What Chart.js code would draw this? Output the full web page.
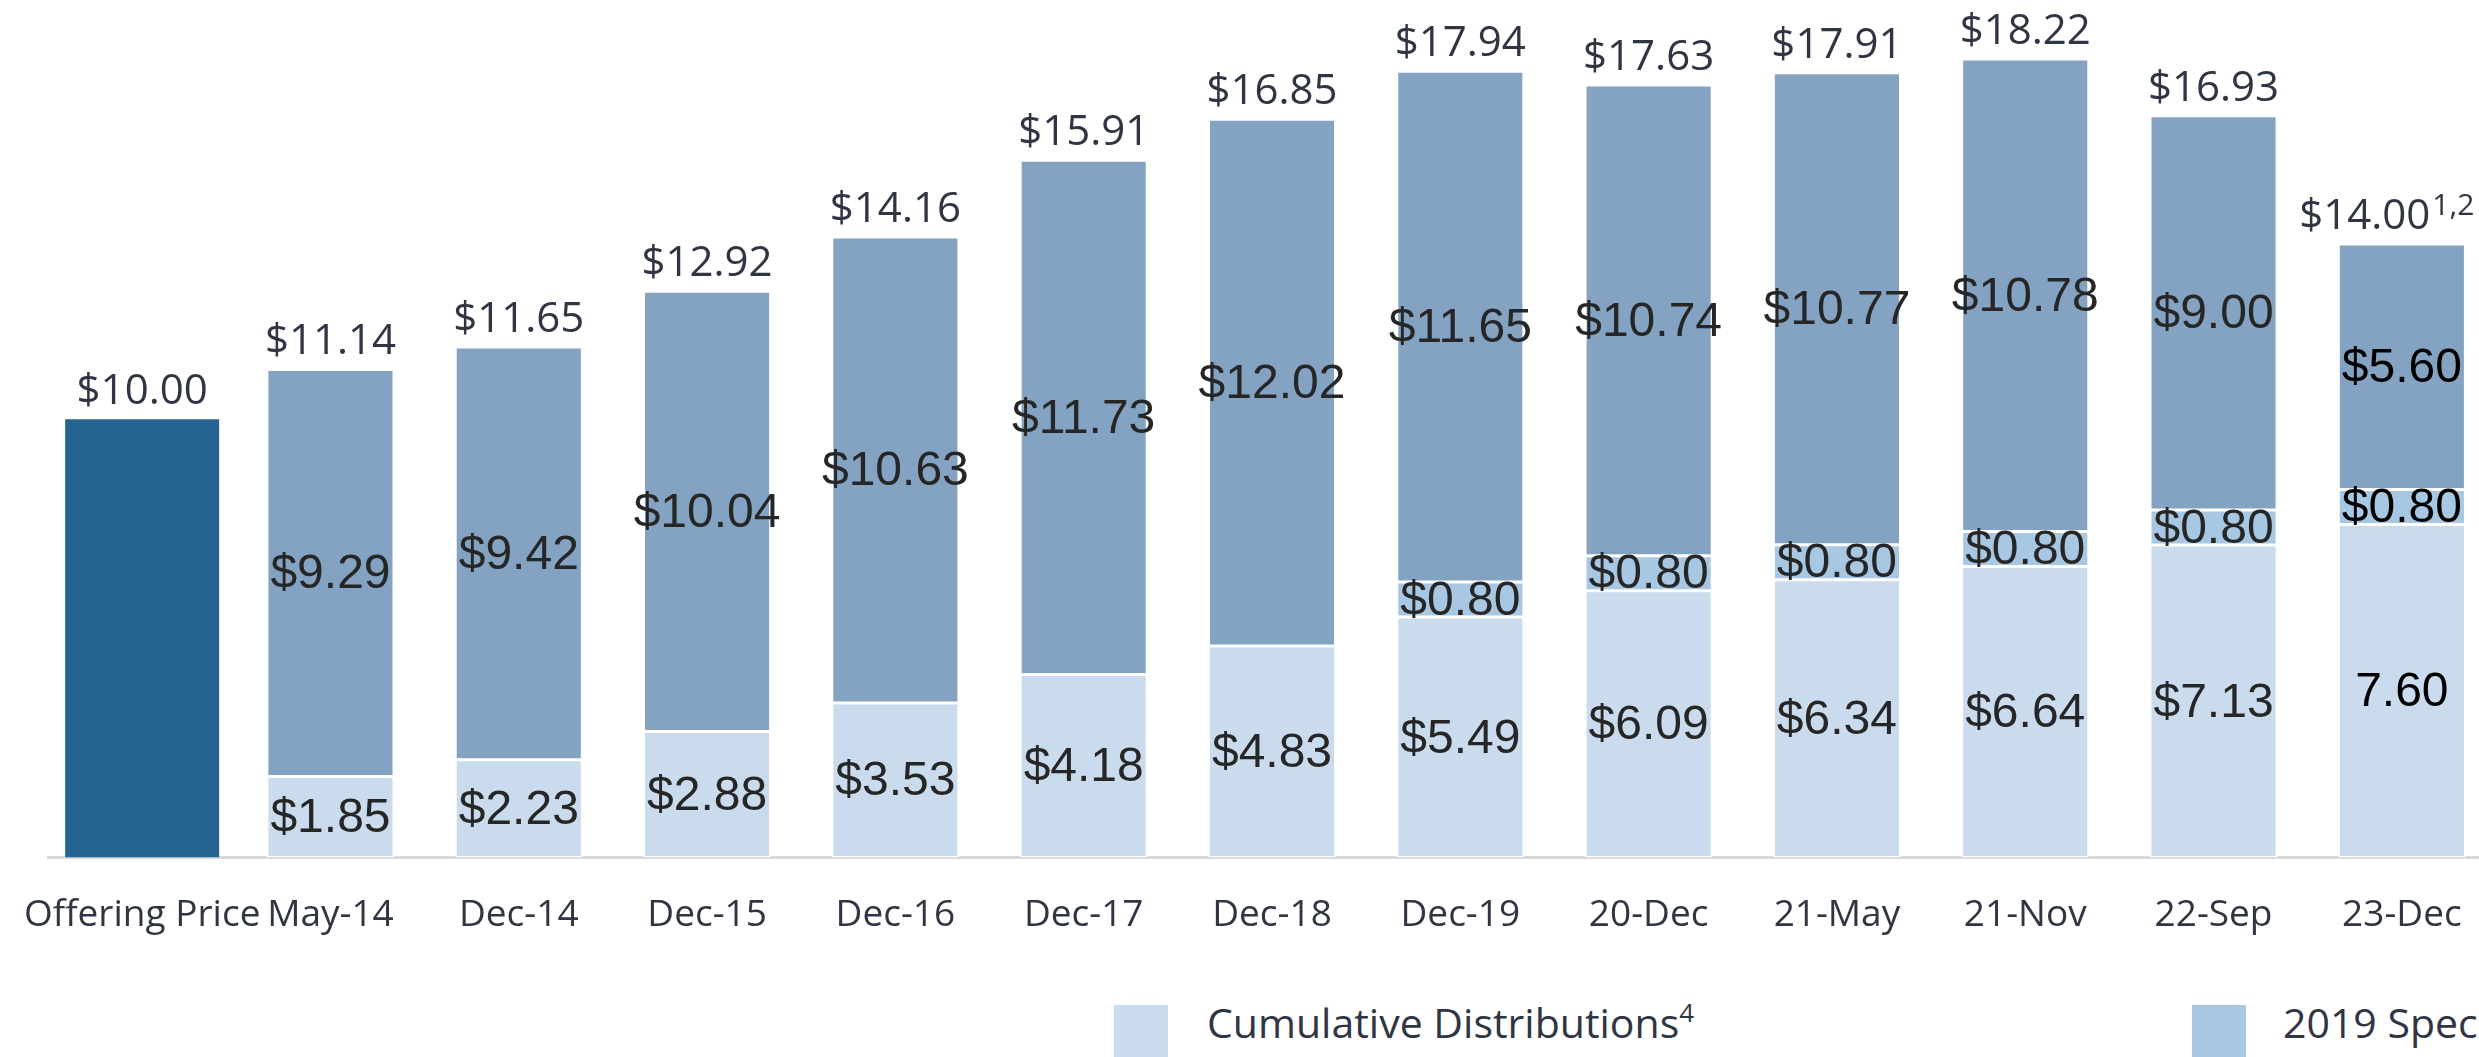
<!DOCTYPE html>
<html>
<head>
<meta charset="utf-8">
<script src="https://cdn.jsdelivr.net/npm/chart.js@4/dist/chart.umd.min.js"></script>
<style>
  html, body { margin: 0; padding: 0; background: #fff; overflow: hidden; }
  #wrap { position: relative; width: 2479px; height: 1057px; overflow: hidden; }
  #box { position: absolute; left: 0; top: 0; width: 2520px; height: 974px; }
  .leg-sq { position: absolute; top: 1005px; width: 54px; height: 54px; }
  .leg-tx { position: absolute; top: 994px; font-family: "Open Sans", sans-serif; font-size: 41px; color: #2f3542; white-space: nowrap; }
  .leg-tx sup { font-size: 26px; vertical-align: 16px; line-height: 0; }
</style>
</head>
<body>
<div id="wrap">
  <div id="box"><canvas id="grafico"></canvas></div>
  <div class="leg-sq" style="left:1114px;background:#c9dbec"></div>
  <div class="leg-tx" style="left:1207px">Cumulative Distributions<sup>4</sup></div>
  <div class="leg-sq" style="left:2192px;background:#abc6e0"></div>
  <div class="leg-tx" style="left:2283px">2019 Special Distribution</div>
</div>
<script>
const categorias = ["Offering Price", "May-14", "Dec-14", "Dec-15", "Dec-16", "Dec-17", "Dec-18", "Dec-19", "20-Dec", "21-May", "21-Nov", "22-Sep", "23-Dec"];
const precioOferta = [10.00, null, null, null, null, null, null, null, null, null, null, null, null];
const distribucionesAcumuladas = [null, 1.85, 2.23, 2.88, 3.53, 4.18, 4.83, 5.49, 6.09, 6.34, 6.64, 7.13, 7.60];
const distribucionEspecial2019 = [null, null, null, null, null, null, null, 0.80, 0.80, 0.80, 0.80, 0.80, 0.80];
const valorNAV = [null, 9.29, 9.42, 10.04, 10.63, 11.73, 12.02, 11.65, 10.74, 10.77, 10.78, 9.00, 5.60];
const notasTotal = ["", "", "", "", "", "", "", "", "", "", "", "", "1,2"];
// en la ultima columna el original imprime los valores en negro y "7.60" sin signo
const columnaSinSigno = "23-Dec";

const fuenteTitulos = '"Open Sans", sans-serif';
const fuenteValores = '"Liberation Sans", Arial, sans-serif';

const etiquetasPlugin = {
  id: "etiquetas",
  afterDatasetsDraw(chart) {
    const ctx = chart.ctx;
    const tope = {};
    const totales = {};
    ctx.save();
    ctx.textAlign = "center";
    ctx.textBaseline = "middle";
    ctx.font = `48px ${fuenteValores}`;
    chart.data.datasets.forEach((ds, d) => {
      const meta = chart.getDatasetMeta(d);
      meta.data.forEach((barra, i) => {
        const v = ds.data[i];
        if (v == null) return;
        if (!tope[i] || barra.y < tope[i].y) tope[i] = { x: barra.x, y: barra.y };
        totales[i] = (totales[i] || 0) + v;
        if (d === 0) return;
        const ultima = categorias[i] === columnaSinSigno;
        const texto = (ultima && d === 1) ? v.toFixed(2) : "$" + v.toFixed(2);
        ctx.fillStyle = ultima ? "#000000" : "#262626";
        ctx.fillText(texto, barra.x, (barra.y + barra.base) / 2 + 2);
      });
    });
    // totales arriba de cada barra
    ctx.textBaseline = "alphabetic";
    ctx.textAlign = "left";
    Object.keys(tope).forEach((k) => {
      const t = tope[k];
      const principal = "$" + totales[k].toFixed(2);
      const nota = notasTotal[k];
      ctx.font = `42px ${fuenteTitulos}`;
      const w1 = ctx.measureText(principal).width;
      ctx.font = `30px ${fuenteTitulos}`;
      const w2 = nota ? ctx.measureText(nota).width : 0;
      const x0 = t.x - (w1 + w2) / 2 - (nota ? 16 : 0);
      const yb = t.y - 15;
      ctx.fillStyle = "#2f3542";
      ctx.font = `42px ${fuenteTitulos}`;
      ctx.fillText(principal, x0, yb);
      if (nota) {
        ctx.font = `30px ${fuenteTitulos}`;
        ctx.fillText(nota, x0 + w1 + 2, yb - 14);
      }
    });
    ctx.restore();
  }
};

function dibujarGrafico() {
  const contexto = document.getElementById("grafico").getContext("2d");
  const comun = { borderColor: "#ffffff", borderWidth: 1.5, borderSkipped: false, categoryPercentage: 1, barPercentage: 0.675 };
  new Chart(contexto, {
    type: "bar",
    data: {
      labels: categorias,
      datasets: [
        { ...comun, label: "Offering Price", data: precioOferta, backgroundColor: "#256390", borderWidth: 0, barPercentage: 0.818 },
        { ...comun, label: "Cumulative Distributions", data: distribucionesAcumuladas, backgroundColor: "#c9dbec" },
        { ...comun, label: "2019 Special Distribution", data: distribucionEspecial2019, backgroundColor: "#a7c7e3" },
        { ...comun, label: "NAV", data: valorNAV, backgroundColor: "#84a3c2" }
      ]
    },
    options: {
      responsive: true,
      maintainAspectRatio: false,
      animation: false,
      layout: { padding: { left: 48, right: 24, top: 3, bottom: 0 } },
      plugins: { legend: { display: false }, tooltip: { enabled: false } },
      scales: {
        x: {
          stacked: true,
          grid: { display: false, drawTicks: false },
          border: { color: "#d9d9d9", width: 3 },
          ticks: { color: "#2f3542", font: { family: "Open Sans", size: 37 }, padding: 36, maxRotation: 0, autoSkip: false },
          afterFit(scale) {
            // que la etiqueta larga del primer grupo no empuje el area del grafico
            scale.paddingLeft = 0;
            scale.paddingRight = 0;
          }
        },
        y: { stacked: true, display: false, min: 0, max: 19.5 }
      }
    },
    plugins: [etiquetasPlugin]
  });
}

document.addEventListener("DOMContentLoaded", dibujarGrafico);
</script>
</body>
</html>
